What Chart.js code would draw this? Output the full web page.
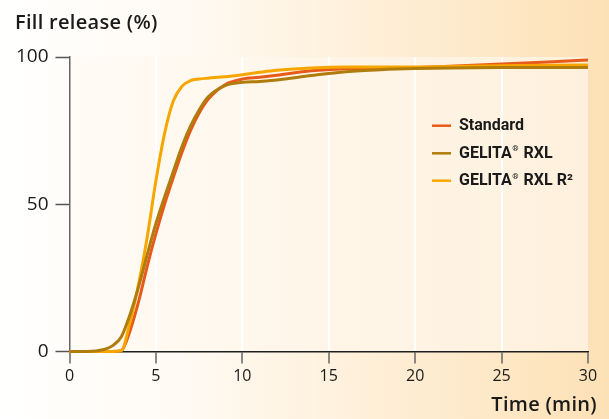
<!DOCTYPE html>
<html>
<head>
<meta charset="utf-8">
<script src="https://cdn.jsdelivr.net/npm/chart.js@4.4.1/dist/chart.umd.min.js"></script>
<style>
  html, body { margin: 0; padding: 0; background: #ffffff; }
  #wrap { width: 609px; height: 419px; position: relative; }
  canvas { display: block; }
</style>
</head>
<body>
<div id="wrap"><canvas id="c" width="609" height="419"></canvas></div>
<script>
// ---- data ----
const times    = [0, 1, 2, 2.5, 3, 3.5, 4, 4.5, 5, 5.5, 6, 6.5, 7, 7.5, 8, 9, 10, 11, 12, 14, 16, 18, 20, 22, 25, 28, 30];
const standard = [0, 0, 0, 0, 0.3, 7, 17, 29, 40, 50, 59, 67.5, 75, 81, 85.5, 90.6, 92.5, 93.1, 93.8, 95.3, 96, 96.2, 96.4, 96.9, 97.6, 98.4, 99];
const rxl      = [0, 0, 0.7, 2, 5, 12.5, 22, 33, 43.5, 52.5, 61, 69.5, 76.5, 82, 86.3, 90.3, 91.4, 91.7, 92.2, 93.7, 95, 95.7, 96.1, 96.3, 96.4, 96.4, 96.4];
const rxlR2    = [0, 0, 0, 0, 0.3, 10, 23, 39, 58, 74, 85, 90, 92, 92.5, 92.8, 93.3, 94, 94.8, 95.5, 96.3, 96.6, 96.6, 96.6, 96.8, 97, 97.2, 97.3];
const seriesNames = ['Standard', 'GELITA\u00AE RXL', 'GELITA\u00AE RXL R\u00B2'];
const seriesColors = ['#e85a1a', '#b07c0c', '#f7a600'];
const xTickValues = [0, 5, 10, 15, 20, 25, 30];
const yTickValues = [0, 50, 100];
const yAxisTitle = 'Fill release (%)';
const xAxisTitle = 'Time (min)';

const toPoints = (vals) => times.map((t, i) => ({ x: t, y: vals[i] }));
const seriesValues = [standard, rxl, rxlR2];
const drawOrder = [2, 0, 1];

const bgPlugin = {
  id: 'bg',
  beforeDraw(chart) {
    const { ctx, width, height, chartArea: a } = chart;
    ctx.save();
    let g = ctx.createLinearGradient(0, 0, width, 0);
    g.addColorStop(0, '#ffffff');
    g.addColorStop(0.3, '#fffaf3');
    g.addColorStop(1, '#fde1b6');
    ctx.fillStyle = g;
    ctx.fillRect(0, 0, width, height);
    g = ctx.createLinearGradient(a.left, 0, a.right, 0);
    g.addColorStop(0, '#fffbf5');
    g.addColorStop(1, '#fef0dc');
    ctx.fillStyle = g;
    ctx.fillRect(a.left, a.top, a.right - a.left, a.bottom - a.top);
    ctx.restore();
  }
};

const textPlugin = {
  id: 'texts',
  afterDraw(chart) {
    const { ctx } = chart;
    ctx.save();
    ctx.fillStyle = '#1a1a1a';
    ctx.font = '600 20px "Open Sans"';
    try { ctx.letterSpacing = '0.3px'; } catch (e) {}
    ctx.textBaseline = 'alphabetic';
    ctx.textAlign = 'left';
    ctx.fillText(yAxisTitle, 15, 28.5);
    ctx.textAlign = 'right';
    ctx.fillText(xAxisTitle, 597, 410.5);
    try { ctx.letterSpacing = '0px'; } catch (e) {}

    // legend
    const rowsY = [125.7, 153.3, 180.7];
    seriesNames.forEach((name, i) => {
      const y = rowsY[i];
      ctx.strokeStyle = seriesColors[i];
      ctx.lineWidth = 2.5;
      ctx.beginPath();
      ctx.moveTo(432, y);
      ctx.lineTo(451, y);
      ctx.stroke();
      ctx.textAlign = 'left';
      ctx.textBaseline = 'middle';
      let x = 459;
      const parts = name.split('\u00AE');
      parts.forEach((p, k) => {
        ctx.font = '700 16px Roboto';
        ctx.fillText(p, x, y + 0.5);
        x += ctx.measureText(p).width;
        if (k < parts.length - 1) {
          ctx.font = '700 8px Roboto';
          ctx.fillText('\u00AE', x + 0.5, y - 4);
          x += ctx.measureText('\u00AE').width + 1.5;
        }
      });
    });
    ctx.restore();
  }
};

new Chart(document.getElementById('c'), {
  type: 'line',
  data: {
    datasets: seriesValues.map((vals, i) => ({
      label: seriesNames[i],
      data: toPoints(vals),
      borderColor: seriesColors[i],
      backgroundColor: seriesColors[i],
      borderWidth: 3,
      pointRadius: 0,
      cubicInterpolationMode: 'monotone',
      fill: false,
      order: drawOrder[i],
      clip: 4
    }))
  },
  options: {
    responsive: false,
    animation: false,
    devicePixelRatio: 1,
    layout: { padding: { left: 0, right: 21, top: 57, bottom: 0 } },
    plugins: { legend: { display: false }, tooltip: { enabled: false }, title: { display: false } },
    scales: {
      x: {
        type: 'linear',
        min: 0, max: 30,
        afterFit(s) { s.height = 67.5; },
        afterBuildTicks(s) { s.ticks = xTickValues.map(v => ({ value: v })); },
        grid: {
          color: (c) => (c.tick && c.tick.value > 0 && c.tick.value < 30) ? 'rgba(255,255,255,0.95)' : 'rgba(0,0,0,0)',
          lineWidth: 2,
          drawTicks: true,
          tickLength: 12,
          tickColor: '#666666',
          tickWidth: 1.5
        },
        border: { display: true, color: '#1e1e1e', width: 1.5 },
        ticks: {
          color: '#1a1a1a',
          font: { family: '"Open Sans"', size: 16 },
          padding: 3,
          maxRotation: 0,
          autoSkip: false
        }
      },
      y: {
        min: 0, max: 100,
        afterFit(s) { s.width = 69.5; },
        afterBuildTicks(s) { s.ticks = yTickValues.map(v => ({ value: v })); },
        grid: {
          drawOnChartArea: false,
          drawTicks: true,
          tickLength: 14,
          tickColor: '#555555',
          tickWidth: 1.5
        },
        border: { display: true, color: '#666666', width: 1.5 },
        ticks: {
          color: '#1a1a1a',
          font: { family: '"Open Sans"', size: 19 },
          padding: 7
        }
      }
    }
  },
  plugins: [bgPlugin, textPlugin]
});
</script>
</body>
</html>
